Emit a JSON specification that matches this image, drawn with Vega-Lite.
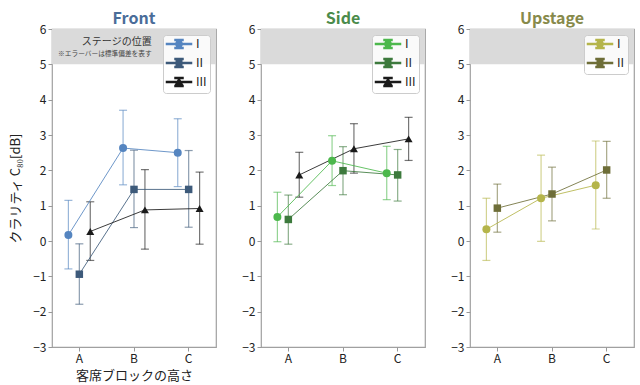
{
  "$schema": "https://vega.github.io/schema/vega-lite/v6.json",
  "padding": {"left": 9, "top": 10, "right": 2, "bottom": 2},
  "config": {
    "font": "Noto Sans CJK JP",
    "view": {"stroke": "#a0a0a0", "strokeWidth": 1.2},
    "axis": {"grid": false, "domain": false, "tickColor": "#999999", "tickSize": 4, "labelFontSize": 12, "labelColor": "#222222", "labelPadding": 2, "titleFontSize": 13, "titleFontWeight": "normal", "titleColor": "#222222", "labelOverlap": false},
    "axisY": {"titlePadding": 10, "tickCount": 12},
    "axisX": {"titlePadding": 5},
    "title": {"fontSize": 16, "fontWeight": "bold", "offset": -4},
    "legend": {"orient": "top-right", "offset": 6, "padding": 3, "symbolSize": 100, "rowPadding": 3, "labelFontSize": 12, "labelColor": "#222222", "labelOffset": 11, "symbolOffset": 7, "fillColor": "rgba(255,255,255,0.85)", "strokeColor": "#cccccc", "cornerRadius": 3, "symbolOpacity": 1}
  },
  "datasets": {
    "d": [
      {"panel": "Front", "series": "I", "block": "A", "mean": 0.17, "lo": -0.79, "hi": 1.15},
      {"panel": "Front", "series": "I", "block": "B", "mean": 2.63, "lo": 1.59, "hi": 3.70},
      {"panel": "Front", "series": "I", "block": "C", "mean": 2.50, "lo": 1.54, "hi": 3.46},
      {"panel": "Front", "series": "II", "block": "A", "mean": -0.94, "lo": -1.79, "hi": -0.08},
      {"panel": "Front", "series": "II", "block": "B", "mean": 1.46, "lo": 0.38, "hi": 2.57},
      {"panel": "Front", "series": "II", "block": "C", "mean": 1.46, "lo": 0.39, "hi": 2.56},
      {"panel": "Front", "series": "III", "block": "A", "mean": 0.27, "lo": -0.55, "hi": 1.11},
      {"panel": "Front", "series": "III", "block": "B", "mean": 0.88, "lo": -0.23, "hi": 2.02},
      {"panel": "Front", "series": "III", "block": "C", "mean": 0.92, "lo": -0.09, "hi": 1.95},
      {"panel": "Side", "series": "I", "block": "A", "mean": 0.68, "lo": -0.02, "hi": 1.38},
      {"panel": "Side", "series": "I", "block": "B", "mean": 2.27, "lo": 1.57, "hi": 2.98},
      {"panel": "Side", "series": "I", "block": "C", "mean": 1.92, "lo": 1.17, "hi": 2.68},
      {"panel": "Side", "series": "II", "block": "A", "mean": 0.61, "lo": -0.09, "hi": 1.30},
      {"panel": "Side", "series": "II", "block": "B", "mean": 1.99, "lo": 1.31, "hi": 2.67},
      {"panel": "Side", "series": "II", "block": "C", "mean": 1.87, "lo": 1.13, "hi": 2.59},
      {"panel": "Side", "series": "III", "block": "A", "mean": 1.87, "lo": 1.24, "hi": 2.51},
      {"panel": "Side", "series": "III", "block": "B", "mean": 2.61, "lo": 1.92, "hi": 3.32},
      {"panel": "Side", "series": "III", "block": "C", "mean": 2.89, "lo": 2.28, "hi": 3.50},
      {"panel": "Upstage", "series": "I", "block": "A", "mean": 0.33, "lo": -0.55, "hi": 1.21},
      {"panel": "Upstage", "series": "I", "block": "B", "mean": 1.21, "lo": -0.01, "hi": 2.43},
      {"panel": "Upstage", "series": "I", "block": "C", "mean": 1.58, "lo": 0.34, "hi": 2.83},
      {"panel": "Upstage", "series": "II", "block": "A", "mean": 0.93, "lo": 0.25, "hi": 1.61},
      {"panel": "Upstage", "series": "II", "block": "B", "mean": 1.33, "lo": 0.57, "hi": 2.09},
      {"panel": "Upstage", "series": "II", "block": "C", "mean": 2.01, "lo": 1.21, "hi": 2.82}
    ]
  },
  "spacing": 24,
  "resolve": {"scale": {"color": "independent", "shape": "independent", "x": "independent", "y": "independent", "xOffset": "independent"}, "legend": {"color": "independent", "shape": "independent"}},
  "hconcat": [
    {
      "width": 164, "height": 318,
      "title": {"text": "Front", "color": "#4a6d99"},
      "layer": [
        {"data": {"values": [{}]}, "mark": {"type": "rect", "color": "#dadada"},
         "encoding": {"y": {"datum": 5, "type": "quantitative", "scale": {"domain": [-3, 6], "nice": false}, "axis": {"values": [-3, -2, -1, 0, 1, 2, 3, 4, 5, 6], "tickCount": 12}, "title": "クラリティ C₈₀[dB]"}, "y2": {"datum": 6}}},
        {"data": {"values": [{"label": "ステージの位置"}]}, "mark": {"type": "text", "align": "right", "baseline": "middle", "fontSize": 10, "color": "#333333", "dx": -37},
         "encoding": {"x": {"datum": "C", "type": "nominal", "axis": {"labelAngle": 0}, "title": "客席ブロックの高さ"}, "y": {"datum": 5.63, "type": "quantitative", "title": "クラリティ C₈₀[dB]"}, "text": {"field": "label"}}},
        {"data": {"values": [{"label": "※エラーバーは標準偏差を表す"}]}, "mark": {"type": "text", "align": "right", "baseline": "middle", "fontSize": 6.7, "color": "#444444", "dx": -37},
         "encoding": {"x": {"datum": "C", "type": "nominal", "axis": {"labelAngle": 0}, "title": "客席ブロックの高さ"}, "y": {"datum": 5.28, "type": "quantitative", "title": "クラリティ C₈₀[dB]"}, "text": {"field": "label"}}},
        {
          "data": {"name": "d"},
          "transform": [{"filter": "datum.panel === 'Front'"}],
          "encoding": {
            "x": {"field": "block", "type": "nominal", "scale": {"domain": ["A", "B", "C"], "paddingInner": 0, "paddingOuter": 0}, "axis": {"labelAngle": 0}, "title": "客席ブロックの高さ"},
            "xOffset": {"field": "series", "type": "nominal", "scale": {"domain": ["I", "II", "III"], "paddingInner": 0, "paddingOuter": 1.92}},
            "color": {"field": "series", "type": "nominal", "scale": {"domain": ["I", "II", "III"], "range": ["#5585c0", "#3d5a7a", "#1a1a1a"]}, "legend": {"title": null}}
          },
          "layer": [
            {"mark": {"type": "rule", "opacity": 0.6, "strokeWidth": 1.2}, "encoding": {"y": {"field": "lo", "type": "quantitative", "title": "クラリティ C₈₀[dB]"}, "y2": {"field": "hi"}}},
            {"mark": {"type": "tick", "opacity": 0.6, "size": 8, "thickness": 1.2}, "encoding": {"y": {"field": "lo", "type": "quantitative", "title": "クラリティ C₈₀[dB]"}}},
            {"mark": {"type": "tick", "opacity": 0.6, "size": 8, "thickness": 1.2}, "encoding": {"y": {"field": "hi", "type": "quantitative", "title": "クラリティ C₈₀[dB]"}}},
            {"mark": {"type": "line", "strokeWidth": 1, "opacity": 0.85}, "encoding": {"y": {"field": "mean", "type": "quantitative", "title": "クラリティ C₈₀[dB]"}}},
            {"transform": [{"filter": "datum.series === 'I'"}], "mark": {"type": "point", "filled": true, "size": 64, "opacity": 1, "shape": "circle"}, "encoding": {"y": {"field": "mean", "type": "quantitative", "title": "クラリティ C₈₀[dB]"}}},
            {"transform": [{"filter": "datum.series === 'II'"}], "mark": {"type": "point", "filled": true, "size": 56, "opacity": 1, "shape": "square"}, "encoding": {"y": {"field": "mean", "type": "quantitative", "title": "クラリティ C₈₀[dB]"}}},
            {"transform": [{"filter": "datum.series === 'III'"}], "mark": {"type": "point", "filled": true, "size": 64, "opacity": 1, "shape": "triangle-up"}, "encoding": {"y": {"field": "mean", "type": "quantitative", "title": "クラリティ C₈₀[dB]"}}},
            {"transform": [{"filter": "false"}], "mark": {"type": "point", "filled": true, "opacity": 1},
             "encoding": {
              "y": {"field": "mean", "type": "quantitative", "title": "クラリティ C₈₀[dB]"},
              "shape": {"field": "series", "type": "nominal", "scale": {"domain": ["I", "II", "III"], "range": [
                "M-2.5,-0.1H2.5V0.1H-2.5ZM-0.1,-0.8H0.1V0.8H-0.1ZM-0.8,-0.9H0.8V-0.7H-0.8ZM-0.8,0.7H0.8V0.9H-0.8ZM0.6,0A0.6,0.6,0,1,1,-0.6,0A0.6,0.6,0,1,1,0.6,0Z",
                "M-2.5,-0.1H2.5V0.1H-2.5ZM-0.1,-0.8H0.1V0.8H-0.1ZM-0.8,-0.9H0.8V-0.7H-0.8ZM-0.8,0.7H0.8V0.9H-0.8ZM-0.55,-0.55H0.55V0.55H-0.55Z",
                "M-2.5,-0.1H2.5V0.1H-2.5ZM-0.1,-0.8H0.1V0.8H-0.1ZM-0.8,-0.9H0.8V-0.7H-0.8ZM-0.8,0.7H0.8V0.9H-0.8ZM0,-0.7L0.7,0.6H-0.7Z"]}, "legend": {"title": null}}
             }}
          ]
        }
      ]
    },
    {
      "width": 164, "height": 318,
      "title": {"text": "Side", "color": "#4b8b4b"},
      "layer": [
        {"data": {"values": [{}]}, "mark": {"type": "rect", "color": "#dadada"},
         "encoding": {"y": {"datum": 5, "type": "quantitative", "scale": {"domain": [-3, 6], "nice": false}, "axis": {"values": [-3, -2, -1, 0, 1, 2, 3, 4, 5, 6], "tickCount": 12}, "title": null}, "y2": {"datum": 6}}},
        {
          "data": {"name": "d"},
          "transform": [{"filter": "datum.panel === 'Side'"}],
          "encoding": {
            "x": {"field": "block", "type": "nominal", "scale": {"domain": ["A", "B", "C"], "paddingInner": 0, "paddingOuter": 0}, "axis": {"labelAngle": 0}, "title": null},
            "xOffset": {"field": "series", "type": "nominal", "scale": {"domain": ["I", "II", "III"], "paddingInner": 0, "paddingOuter": 1.92}},
            "color": {"field": "series", "type": "nominal", "scale": {"domain": ["I", "II", "III"], "range": ["#4cb84c", "#3d7a3d", "#1a1a1a"]}, "legend": {"title": null}}
          },
          "layer": [
            {"mark": {"type": "rule", "opacity": 0.6, "strokeWidth": 1.2}, "encoding": {"y": {"field": "lo", "type": "quantitative", "title": null}, "y2": {"field": "hi"}}},
            {"mark": {"type": "tick", "opacity": 0.6, "size": 8, "thickness": 1.2}, "encoding": {"y": {"field": "lo", "type": "quantitative", "title": null}}},
            {"mark": {"type": "tick", "opacity": 0.6, "size": 8, "thickness": 1.2}, "encoding": {"y": {"field": "hi", "type": "quantitative", "title": null}}},
            {"mark": {"type": "line", "strokeWidth": 1, "opacity": 0.85}, "encoding": {"y": {"field": "mean", "type": "quantitative", "title": null}}},
            {"transform": [{"filter": "datum.series === 'I'"}], "mark": {"type": "point", "filled": true, "size": 64, "opacity": 1, "shape": "circle"}, "encoding": {"y": {"field": "mean", "type": "quantitative", "title": null}}},
            {"transform": [{"filter": "datum.series === 'II'"}], "mark": {"type": "point", "filled": true, "size": 56, "opacity": 1, "shape": "square"}, "encoding": {"y": {"field": "mean", "type": "quantitative", "title": null}}},
            {"transform": [{"filter": "datum.series === 'III'"}], "mark": {"type": "point", "filled": true, "size": 64, "opacity": 1, "shape": "triangle-up"}, "encoding": {"y": {"field": "mean", "type": "quantitative", "title": null}}},
            {"transform": [{"filter": "false"}], "mark": {"type": "point", "filled": true, "opacity": 1},
             "encoding": {
              "y": {"field": "mean", "type": "quantitative", "title": null},
              "shape": {"field": "series", "type": "nominal", "scale": {"domain": ["I", "II", "III"], "range": [
                "M-2.5,-0.1H2.5V0.1H-2.5ZM-0.1,-0.8H0.1V0.8H-0.1ZM-0.8,-0.9H0.8V-0.7H-0.8ZM-0.8,0.7H0.8V0.9H-0.8ZM0.6,0A0.6,0.6,0,1,1,-0.6,0A0.6,0.6,0,1,1,0.6,0Z",
                "M-2.5,-0.1H2.5V0.1H-2.5ZM-0.1,-0.8H0.1V0.8H-0.1ZM-0.8,-0.9H0.8V-0.7H-0.8ZM-0.8,0.7H0.8V0.9H-0.8ZM-0.55,-0.55H0.55V0.55H-0.55Z",
                "M-2.5,-0.1H2.5V0.1H-2.5ZM-0.1,-0.8H0.1V0.8H-0.1ZM-0.8,-0.9H0.8V-0.7H-0.8ZM-0.8,0.7H0.8V0.9H-0.8ZM0,-0.7L0.7,0.6H-0.7Z"]}, "legend": {"title": null}}
             }}
          ]
        }
      ]
    },
    {
      "width": 164, "height": 318,
      "title": {"text": "Upstage", "color": "#878a4b"},
      "layer": [
        {"data": {"values": [{}]}, "mark": {"type": "rect", "color": "#dadada"},
         "encoding": {"y": {"datum": 5, "type": "quantitative", "scale": {"domain": [-3, 6], "nice": false}, "axis": {"values": [-3, -2, -1, 0, 1, 2, 3, 4, 5, 6], "tickCount": 12}, "title": null}, "y2": {"datum": 6}}},
        {
          "data": {"name": "d"},
          "transform": [{"filter": "datum.panel === 'Upstage'"}],
          "encoding": {
            "x": {"field": "block", "type": "nominal", "scale": {"domain": ["A", "B", "C"], "paddingInner": 0, "paddingOuter": 0}, "axis": {"labelAngle": 0}, "title": null},
            "xOffset": {"field": "series", "type": "nominal", "scale": {"domain": ["I", "II", "III"], "paddingInner": 0, "paddingOuter": 1.92}},
            "color": {"field": "series", "type": "nominal", "scale": {"domain": ["I", "II"], "range": ["#b5b54a", "#6e6e38"]}, "legend": {"title": null}}
          },
          "layer": [
            {"mark": {"type": "rule", "opacity": 0.6, "strokeWidth": 1.2}, "encoding": {"y": {"field": "lo", "type": "quantitative", "title": null}, "y2": {"field": "hi"}}},
            {"mark": {"type": "tick", "opacity": 0.6, "size": 8, "thickness": 1.2}, "encoding": {"y": {"field": "lo", "type": "quantitative", "title": null}}},
            {"mark": {"type": "tick", "opacity": 0.6, "size": 8, "thickness": 1.2}, "encoding": {"y": {"field": "hi", "type": "quantitative", "title": null}}},
            {"mark": {"type": "line", "strokeWidth": 1, "opacity": 0.85}, "encoding": {"y": {"field": "mean", "type": "quantitative", "title": null}}},
            {"transform": [{"filter": "datum.series === 'I'"}], "mark": {"type": "point", "filled": true, "size": 64, "opacity": 1, "shape": "circle"}, "encoding": {"y": {"field": "mean", "type": "quantitative", "title": null}}},
            {"transform": [{"filter": "datum.series === 'II'"}], "mark": {"type": "point", "filled": true, "size": 56, "opacity": 1, "shape": "square"}, "encoding": {"y": {"field": "mean", "type": "quantitative", "title": null}}},
            {"transform": [{"filter": "false"}], "mark": {"type": "point", "filled": true, "opacity": 1},
             "encoding": {
              "y": {"field": "mean", "type": "quantitative", "title": null},
              "shape": {"field": "series", "type": "nominal", "scale": {"domain": ["I", "II"], "range": [
                "M-2.5,-0.1H2.5V0.1H-2.5ZM-0.1,-0.8H0.1V0.8H-0.1ZM-0.8,-0.9H0.8V-0.7H-0.8ZM-0.8,0.7H0.8V0.9H-0.8ZM0.6,0A0.6,0.6,0,1,1,-0.6,0A0.6,0.6,0,1,1,0.6,0Z",
                "M-2.5,-0.1H2.5V0.1H-2.5ZM-0.1,-0.8H0.1V0.8H-0.1ZM-0.8,-0.9H0.8V-0.7H-0.8ZM-0.8,0.7H0.8V0.9H-0.8ZM-0.55,-0.55H0.55V0.55H-0.55Z"]}, "legend": {"title": null}}
             }}
          ]
        }
      ]
    }
  ]
}
